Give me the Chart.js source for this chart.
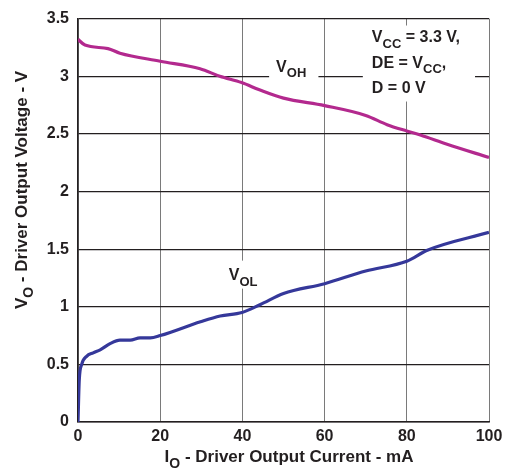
<!DOCTYPE html>
<html>
<head>
<meta charset="utf-8">
<script src="https://cdn.jsdelivr.net/npm/chart.js@4/dist/chart.umd.min.js"></script>
<style>
html,body{margin:0;padding:0;background:#fff;}
#wrap{width:512px;height:470px;}
</style>
</head>
<body>
<div id="wrap"><canvas id="c" width="512" height="470"></canvas></div>
<script>
// ---- data ----
const currentVOH = [0, 1.7, 7.3, 10.2, 20, 29.7, 34.5, 39.8, 44.3, 50, 60, 70, 75.2, 80, 83.3, 89.8, 100];
const voltageVOH = [3.32, 3.27, 3.24, 3.20, 3.13, 3.065, 3.0, 2.945, 2.88, 2.81, 2.745, 2.66, 2.58, 2.525, 2.49, 2.41, 2.295];
const currentVOL = [0, 0.3, 0.9, 2.1, 3.7, 5.4, 7.8, 10.2, 12.7, 15.1, 17.6, 20, 29.8, 34.6, 39.9, 44.4, 50, 60, 70, 80, 85, 100];
const voltageVOL = [0, 0.36, 0.50, 0.57, 0.60, 0.626, 0.68, 0.71, 0.71, 0.73, 0.73, 0.75, 0.87, 0.92, 0.95, 1.02, 1.115, 1.20, 1.31, 1.395, 1.49, 1.645];
const xTicks = [0, 20, 40, 60, 80, 100];
const yTicks = [0, 0.5, 1, 1.5, 2, 2.5, 3, 3.5];

const FONT = '"Liberation Sans", Arial, sans-serif';
const toPts = (xs, ys) => xs.map((x, i) => ({x: x, y: ys[i]}));

function drawSub(ctx, x, y, parts, size) {
  let cx = x;
  parts.forEach(([t, sub]) => {
    const fs = sub ? Math.round(size * 0.82) : size;
    ctx.font = 'bold ' + fs + 'px ' + FONT;
    ctx.fillText(t, cx, y + (sub ? size * 0.33 : 0));
    cx += ctx.measureText(t).width;
  });
  return cx - x;
}
function measureSub(ctx, parts, size) {
  let w = 0;
  parts.forEach(([t, sub]) => {
    const fs = sub ? Math.round(size * 0.82) : size;
    ctx.font = 'bold ' + fs + 'px ' + FONT;
    w += ctx.measureText(t).width;
  });
  return w;
}

const annot = {
  id: 'annot',
  beforeDatasetsDraw(chart) {
    const ctx = chart.ctx, xs = chart.scales.x, ys = chart.scales.y;
    ctx.save();
    ctx.fillStyle = '#fff';
    ctx.fillRect(xs.getPixelForValue(46.5), ys.getPixelForValue(3.19), xs.getPixelForValue(58.5) - xs.getPixelForValue(46.5), 30);
    ctx.fillRect(xs.getPixelForValue(69.3), ys.getPixelForValue(3.44), xs.getPixelForValue(96.6) - xs.getPixelForValue(69.3), 76);
    ctx.fillRect(xs.getPixelForValue(36.5), ys.getPixelForValue(1.4), xs.getPixelForValue(45) - xs.getPixelForValue(36.5), 28);
    ctx.restore();
  },
  afterDraw(chart) {
    const ctx = chart.ctx, xs = chart.scales.x, ys = chart.scales.y;
    ctx.save();
    ctx.fillStyle = '#231f20';
    ctx.textBaseline = 'alphabetic';
    ctx.textAlign = 'left';
    const S = 16;
    drawSub(ctx, xs.getPixelForValue(48.2), ys.getPixelForValue(3.04), [['V', false], ['OH', true]], S);
    drawSub(ctx, xs.getPixelForValue(36.7), ys.getPixelForValue(1.23), [['V', false], ['OL', true]], S);
    const ax = xs.getPixelForValue(71.5);
    drawSub(ctx, ax, ys.getPixelForValue(3.295), [['V', false], ['CC', true], [' = 3.3 V,', false]], S);
    drawSub(ctx, ax, ys.getPixelForValue(3.07), [['DE = V', false], ['CC', true], [',', false]], S);
    drawSub(ctx, ax, ys.getPixelForValue(2.858), [['D = 0 V', false]], S);

    const T = 17;
    const xParts = [['I', false], ['O', true], [' - Driver Output Current - mA', false]];
    const xw = measureSub(ctx, xParts, T);
    drawSub(ctx, 289 - xw / 2, 462, xParts, T);

    const yParts = [['V', false], ['O', true], [' - Driver Output Voltage - V', false]];
    const yw = measureSub(ctx, yParts, T);
    ctx.translate(27, 190);
    ctx.rotate(-Math.PI / 2);
    drawSub(ctx, -yw / 2, 0, yParts, T);
    ctx.restore();
  }
};

new Chart(document.getElementById('c'), {
  type: 'scatter',
  data: {
    datasets: [
      {label: 'VOH', data: toPts(currentVOH, voltageVOH), showLine: true, borderColor: '#b3298e', borderWidth: 3.2, pointRadius: 0, cubicInterpolationMode: 'monotone'},
      {label: 'VOL', data: toPts(currentVOL, voltageVOL), showLine: true, borderColor: '#35389a', borderWidth: 3.2, pointRadius: 0, cubicInterpolationMode: 'monotone'}
    ]
  },
  options: {
    responsive: false,
    animation: false,
    events: [],
    layout: {padding: {left: 0, right: 23, top: 11, bottom: 0}},
    plugins: {legend: {display: false}, tooltip: {enabled: false}},
    scales: {
      x: {
        type: 'linear', min: 0, max: 100,
        afterBuildTicks: s => { s.ticks = xTicks.map(v => ({value: v})); },
        afterFit: s => { s.height = 48; },
        grid: {color: '#7a7a7a', lineWidth: 1, drawTicks: false},
        border: {color: '#231f20', width: 1.5},
        ticks: {color: '#231f20', padding: 5, font: {family: FONT, size: 16, weight: 'bold'}, callback: v => String(v)}
      },
      y: {
        type: 'linear', min: 0, max: 3.5,
        afterBuildTicks: s => { s.ticks = yTicks.map(v => ({value: v})); },
        afterFit: s => { s.width = 78; },
        grid: {color: '#231f20', lineWidth: 1.2, drawTicks: false},
        border: {color: '#231f20', width: 1.5},
        ticks: {color: '#231f20', padding: 9, font: {family: FONT, size: 16, weight: 'bold'}, callback: v => String(v)}
      }
    }
  },
  plugins: [annot]
});
</script>
</body>
</html>
